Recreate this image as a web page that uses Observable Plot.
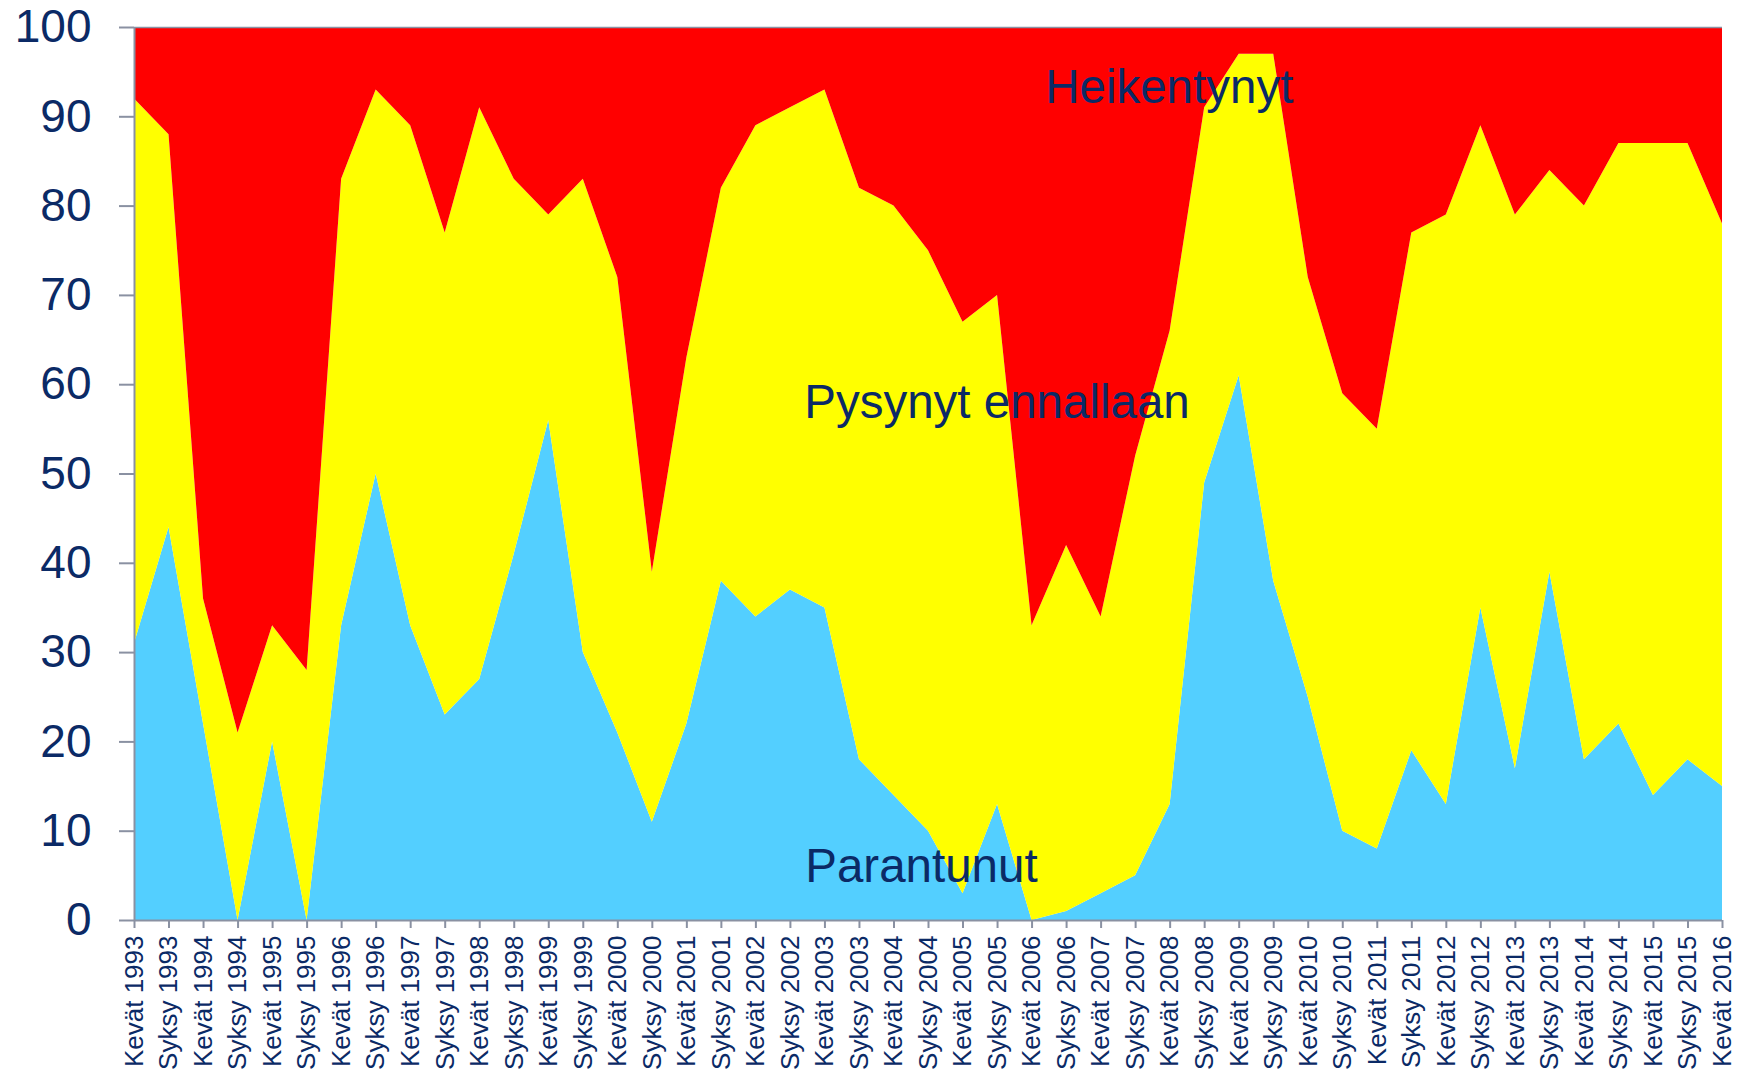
<!DOCTYPE html>
<html>
<head>
<meta charset="utf-8">
<script src="https://cdn.jsdelivr.net/npm/d3@7"></script>
<script src="https://cdn.jsdelivr.net/npm/@observablehq/plot@0.6"></script>
<style>
  html, body { margin: 0; padding: 0; background: #ffffff; }
  #chart svg { display: block; }
</style>
</head>
<body>
<div id="chart"></div>
<script>
// Category labels (x axis)
const periods = [
  "Kevät 1993","Syksy 1993","Kevät 1994","Syksy 1994","Kevät 1995","Syksy 1995",
  "Kevät 1996","Syksy 1996","Kevät 1997","Syksy 1997","Kevät 1998","Syksy 1998",
  "Kevät 1999","Syksy 1999","Kevät 2000","Syksy 2000","Kevät 2001","Syksy 2001",
  "Kevät 2002","Syksy 2002","Kevät 2003","Syksy 2003","Kevät 2004","Syksy 2004",
  "Kevät 2005","Syksy 2005","Kevät 2006","Syksy 2006","Kevät 2007","Syksy 2007",
  "Kevät 2008","Syksy 2008","Kevät 2009","Syksy 2009","Kevät 2010","Syksy 2010",
  "Kevät 2011","Syksy 2011","Kevät 2012","Syksy 2012","Kevät 2013","Syksy 2013",
  "Kevät 2014","Syksy 2014","Kevät 2015","Syksy 2015","Kevät 2016"
];

// Series names (bottom to top)
const seriesNames = ["Parantunut", "Pysynyt ennallaan", "Heikentynyt"];
const seriesColors = ["#53cfff", "#ffff00", "#ff0000"];

// Series values (%)
const parantunut = [31,44,22,0,20,0,33,50,33,23,27,41,56,30,21,11,22,38,34,37,35,18,14,10,3,13,0,1,3,5,13,49,61,38,25,10,8,19,13,35,17,39,18,22,14,18,15];
const pysynyt    = [61,44,14,21,13,28,50,43,56,54,64,42,23,53,51,28,41,44,55,54,58,64,66,65,64,57,33,41,31,47,53,42,36,59,47,49,47,58,66,54,62,45,62,65,73,69,63];
const heikentynyt= [8,12,64,79,67,72,17,7,11,23,9,17,21,17,28,61,37,18,11,9,7,18,20,25,33,30,67,58,66,48,34,9,3,3,28,41,45,23,21,11,21,16,20,13,13,13,22];

// Y tick values
const yTicks = [0,10,20,30,40,50,60,70,80,90,100];

const seriesValues = [parantunut, pysynyt, heikentynyt];
const rows = seriesNames.flatMap((s, k) =>
  seriesValues[k].map((v, i) => ({i, series: s, value: v}))
);

const navy = "#0b2a66";
const gray = "#8a91a2";
const font = "'Liberation Sans', Arial, sans-serif";

const chart = Plot.plot({
  width: 1742,
  height: 1075,
  marginLeft: 134,
  marginRight: 20,
  marginTop: 27,
  marginBottom: 155,
  style: {fontFamily: font, background: "#ffffff"},
  x: {type: "linear", domain: [0, periods.length - 1]},
  y: {domain: [0, 100]},
  color: {domain: seriesNames, range: seriesColors},
  marks: [
    Plot.areaY(rows, {
      x: "i", y: "value", z: "series", fill: "series",
      order: seriesNames, curve: "linear"
    }),
    Plot.ruleY([100], {stroke: gray, strokeWidth: 1.5}),
    Plot.ruleX([0], {stroke: gray, strokeWidth: 2}),
    Plot.ruleY([0], {stroke: gray, strokeWidth: 2}),
    Plot.axisY({
      ticks: yTicks, tickSize: 15, tickPadding: 28, label: null,
      stroke: gray, strokeWidth: 2, fill: navy, fontSize: 46,
      tickFormat: d => String(d)
    }),
    Plot.axisX({
      ticks: d3.range(periods.length), tickSize: 8, tickPadding: 7, label: null,
      tickRotate: -90, stroke: gray, strokeWidth: 2, fill: navy, fontSize: 26,
      tickFormat: i => periods[i]
    }),
    Plot.text([seriesNames[2]], {
      x: 26.38, y: 91.5, text: d => d, textAnchor: "start", lineAnchor: "bottom",
      fontSize: 47.5, fill: navy
    }),
    Plot.text([seriesNames[1]], {
      x: 19.4, y: 56.3, text: d => d, textAnchor: "start", lineAnchor: "bottom",
      fontSize: 47.5, fill: navy
    }),
    Plot.text([seriesNames[0]], {
      x: 19.43, y: 4.3, text: d => d, textAnchor: "start", lineAnchor: "bottom",
      fontSize: 47.5, fill: navy
    })
  ]
});

document.getElementById("chart").appendChild(chart);
</script>
</body>
</html>
